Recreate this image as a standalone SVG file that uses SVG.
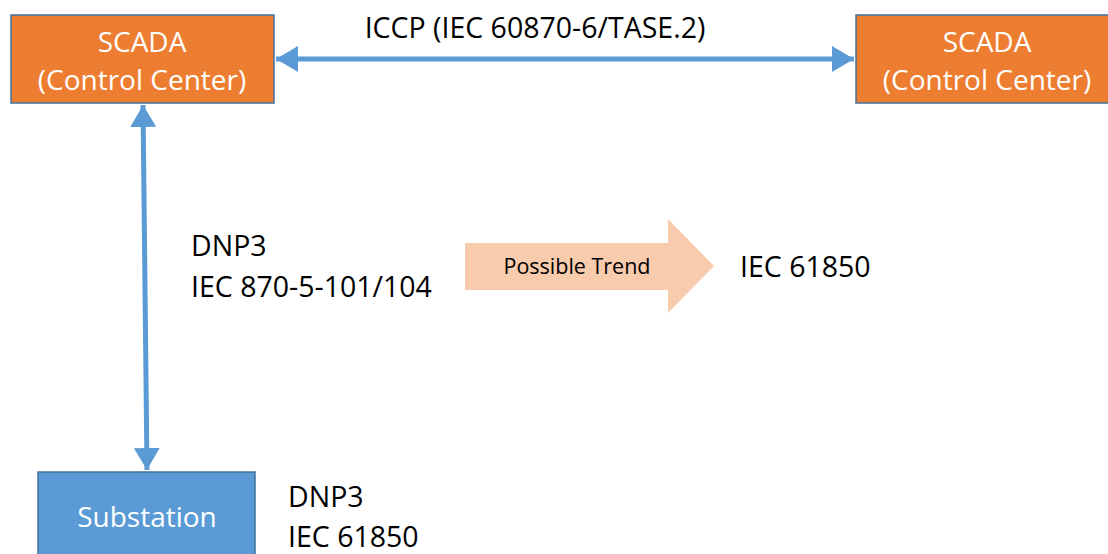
<svg xmlns="http://www.w3.org/2000/svg" width="1108" height="554" viewBox="0 0 1108 554">
  <style>
    .box-orange { fill: #ED7D31; stroke: #41719C; stroke-width: 1.5; }
    .box-blue { fill: #5B9BD5; stroke: #41719C; stroke-width: 1.5; }
    .label-white { font-family: "Open Sans", "Noto Sans", sans-serif; font-size: 28px; fill: #FFFFFF; text-anchor: middle; }
    .label { font-family: "Open Sans", "Noto Sans", sans-serif; font-size: 28.5px; fill: #000000; }
    .link { stroke: #5B9BD5; stroke-width: 5; fill: none; }
  </style>
  <defs>
    <marker id="arrowHead" viewBox="0 0 22 26" refX="22" refY="13" markerWidth="22" markerHeight="26" markerUnits="userSpaceOnUse" orient="auto-start-reverse">
      <path d="M0,0 L22,13 L0,26 Z" fill="#5B9BD5"/>
    </marker>
  </defs>

  <!-- Control center on the left -->
  <g id="scada-left">
    <rect class="box-orange" x="11" y="15" width="263" height="88"/>
    <text class="label-white" x="142" y="52">SCADA</text>
    <text class="label-white" x="142" y="90">(Control Center)</text>
  </g>

  <!-- Control center on the right -->
  <g id="scada-right">
    <rect class="box-orange" x="856" y="15" width="260" height="88"/>
    <text class="label-white" x="987" y="52">SCADA</text>
    <text class="label-white" x="987" y="90">(Control Center)</text>
  </g>

  <!-- Substation -->
  <g id="substation">
    <rect class="box-blue" x="38" y="472" width="217" height="100"/>
    <text class="label-white" x="147" y="527">Substation</text>
  </g>

  <!-- Connectors -->
  <g id="connectors">
    <line class="link" x1="276" y1="59" x2="854" y2="59" marker-start="url(#arrowHead)" marker-end="url(#arrowHead)"/>
    <line class="link" x1="143" y1="105" x2="147" y2="470" marker-start="url(#arrowHead)" marker-end="url(#arrowHead)"/>
  </g>

  <!-- Protocol labels -->
  <g id="iccp-label">
    <text class="label" x="535" y="38" text-anchor="middle">ICCP (IEC 60870-6/TASE.2)</text>
  </g>
  <g id="dnp3-label">
    <text class="label" x="191" y="256">DNP3</text>
    <text class="label" x="191" y="297">IEC 870-5-101/104</text>
  </g>

  <!-- Trend arrow -->
  <g id="trend">
    <path d="M465,243 L668,243 L668,219 L714,266 L668,313 L668,290 L465,290 Z" fill="#F8CBAD"/>
    <text x="577" y="274" font-family="Open Sans, Noto Sans, sans-serif" font-size="21.5" fill="#000000" text-anchor="middle">Possible Trend</text>
  </g>
  <g id="iec61850-label">
    <text class="label" x="740" y="277">IEC 61850</text>
  </g>
  <g id="substation-protocols">
    <text class="label" x="288" y="507">DNP3</text>
    <text class="label" x="288" y="547">IEC 61850</text>
  </g>
</svg>
